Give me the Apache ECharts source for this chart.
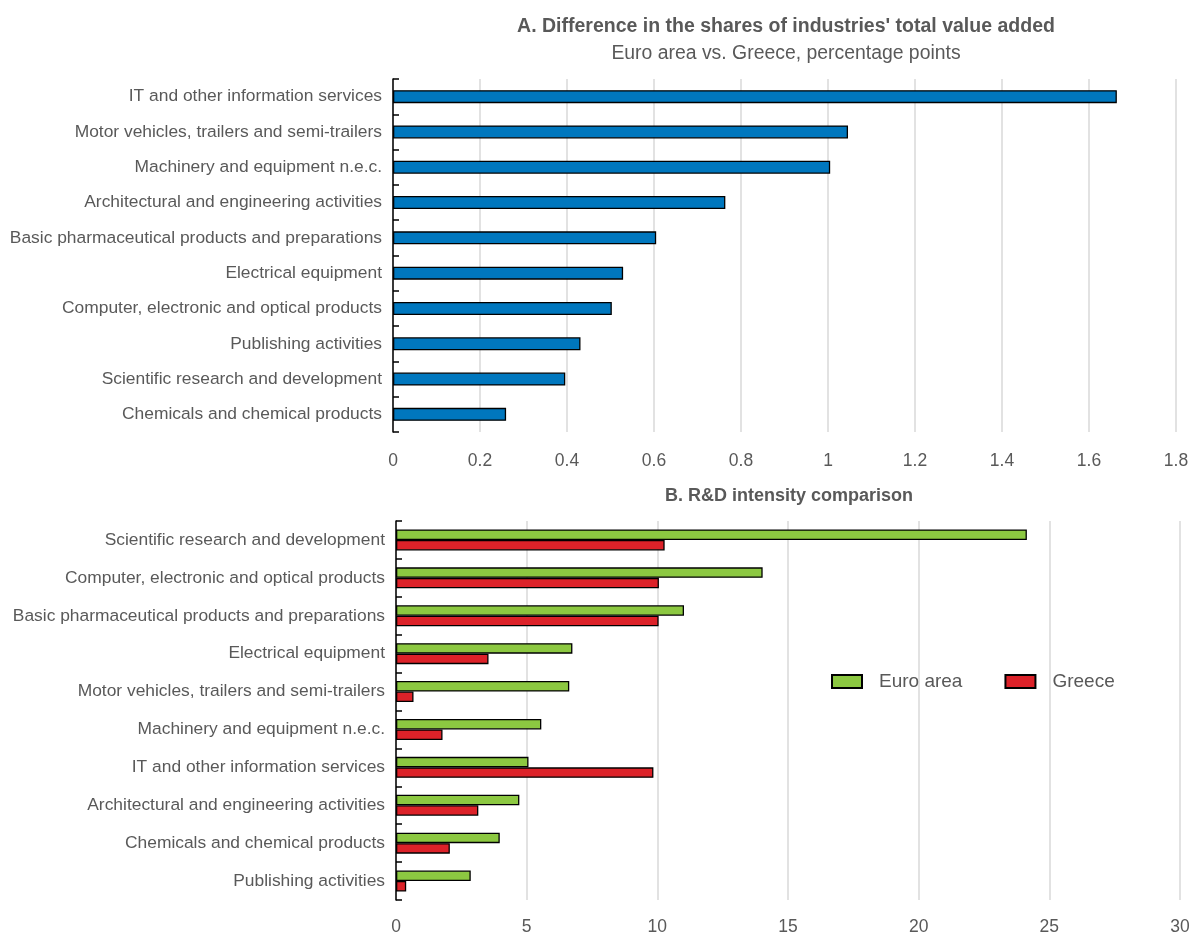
<!DOCTYPE html>
<html>
<head>
<meta charset="utf-8">
<title>Value added and R&amp;D intensity: Euro area vs. Greece</title>
<script src="https://cdn.jsdelivr.net/npm/echarts@6/dist/echarts.min.js"></script>
<style>
  html, body { margin: 0; padding: 0; background: #ffffff; }
  #chart { width: 1190px; height: 934px; }
</style>
</head>
<body>
<div id="chart"></div>
<script>
// Panel A: difference in value-added shares (percentage points), top to bottom
const shareCategories = [
  'IT and other information services',
  'Motor vehicles, trailers and semi-trailers',
  'Machinery and equipment n.e.c.',
  'Architectural and engineering activities',
  'Basic pharmaceutical products and preparations',
  'Electrical equipment',
  'Computer, electronic and optical products',
  'Publishing activities',
  'Scientific research and development',
  'Chemicals and chemical products'
];
const shareDiff = [1.664, 1.046, 1.005, 0.764, 0.605, 0.529, 0.503, 0.431, 0.396, 0.26];

// Panel B: R&D intensity, top to bottom
const rdCategories = [
  'Scientific research and development',
  'Computer, electronic and optical products',
  'Basic pharmaceutical products and preparations',
  'Electrical equipment',
  'Motor vehicles, trailers and semi-trailers',
  'Machinery and equipment n.e.c.',
  'IT and other information services',
  'Architectural and engineering activities',
  'Chemicals and chemical products',
  'Publishing activities'
];
const rdEuroArea = [24.14, 14.03, 11.02, 6.75, 6.63, 5.56, 5.07, 4.72, 3.97, 2.86];
const rdGreece   = [10.28, 10.06, 10.05, 3.54, 0.67, 1.78, 9.85, 3.15, 2.06, 0.39];

const FONT = '"Liberation Sans Narrow", "Arial Narrow", "Liberation Sans", Arial, sans-serif';
const TEXT = '#595959';
const GRID = '#d9d9d9';

const chart = echarts.init(document.getElementById('chart'), null, { renderer: 'canvas' });

function valueAxis(gridIndex, max, interval, margin) {
  return {
    type: 'value', gridIndex, min: 0, max, interval,
    axisLine: { show: false },
    axisTick: { show: false },
    axisLabel: { color: TEXT, fontFamily: FONT, fontSize: 17.5, margin },
    splitLine: { show: true, lineStyle: { color: GRID, width: 1.5 } }
  };
}
function categoryAxis(gridIndex, data) {
  return {
    type: 'category', gridIndex, data, inverse: true,
    axisLine: { show: true, lineStyle: { color: '#000000', width: 1.5 } },
    axisTick: { show: true, inside: true, length: 6, lineStyle: { color: '#000000', width: 1.5 } },
    axisLabel: { color: TEXT, fontFamily: FONT, fontSize: 17.4, margin: 11 },
    splitLine: { show: false }
  };
}

chart.setOption({
  animation: false,
  backgroundColor: '#ffffff',
  title: [
    {
      text: "A. Difference in the shares of industries' total value added",
      subtext: 'Euro area vs. Greece, percentage points',
      left: 781, top: 12, textAlign: 'center', itemGap: 7,
      textStyle: { color: TEXT, fontFamily: FONT, fontSize: 19.5, fontWeight: 'bold' },
      subtextStyle: { color: TEXT, fontFamily: FONT, fontSize: 19.4 }
    },
    {
      text: 'B. R&D intensity comparison',
      left: 784, top: 482, textAlign: 'center',
      textStyle: { color: TEXT, fontFamily: FONT, fontSize: 18, fontWeight: 'bold' }
    }
  ],
  legend: {
    data: ['Euro area', 'Greece'],
    orient: 'horizontal',
    left: 826, top: 667, width: 360,
    itemWidth: 30, itemHeight: 13, itemGap: 42,
    icon: 'rect',
    textStyle: { color: TEXT, fontFamily: FONT, fontSize: 19, padding: [0, 0, 0, 12] }
  },
  grid: [
    { left: 393, right: 14, top: 79, height: 353, outerBoundsMode: 'none' },
    { left: 396, right: 10, top: 521, height: 379, outerBoundsMode: 'none' }
  ],
  xAxis: [ valueAxis(0, 1.8, 0.2, 20), valueAxis(1, 30, 5, 18) ],
  yAxis: [ categoryAxis(0, shareCategories), categoryAxis(1, rdCategories) ],
  series: [
    {
      name: 'Value added share difference', type: 'bar',
      xAxisIndex: 0, yAxisIndex: 0, data: shareDiff, barWidth: 13,
      itemStyle: { color: '#0077be', borderColor: '#000000', borderWidth: 1.3 }
    },
    {
      name: 'Euro area', type: 'bar',
      xAxisIndex: 1, yAxisIndex: 1, data: rdEuroArea, barWidth: 10.5, barGap: '0%',
      itemStyle: { color: '#8cc841', borderColor: '#000000', borderWidth: 1.3 }
    },
    {
      name: 'Greece', type: 'bar',
      xAxisIndex: 1, yAxisIndex: 1, data: rdGreece, barWidth: 10.5, barGap: '0%',
      itemStyle: { color: '#dc2229', borderColor: '#000000', borderWidth: 1.3 }
    }
  ]
});
</script>
</body>
</html>
